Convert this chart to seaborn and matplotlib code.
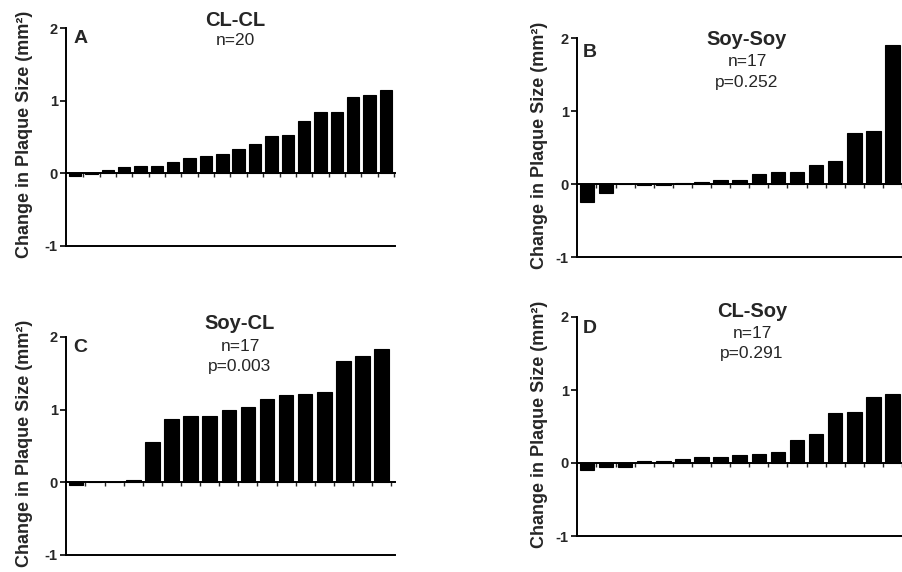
import numpy as np
import pandas as pd
import matplotlib
matplotlib.use("Agg")
import matplotlib.pyplot as plt
import seaborn as sns

# ---- data ----
vals_A = [-0.04, -0.01, 0.05, 0.09, 0.10, 0.10, 0.15, 0.21, 0.24, 0.27,
          0.33, 0.41, 0.52, 0.53, 0.72, 0.84, 0.84, 1.05, 1.08, 1.14]
vals_B = [-0.25, -0.12, 0.0, -0.02, -0.02, 0.02, 0.03, 0.055, 0.055, 0.14,
          0.16, 0.16, 0.26, 0.32, 0.70, 0.73, 1.91]
vals_C = [-0.04, 0.0, 0.0, 0.03, 0.55, 0.87, 0.91, 0.91, 0.99, 1.04,
          1.14, 1.20, 1.21, 1.24, 1.67, 1.74, 1.83]
vals_D = [-0.10, -0.06, -0.06, 0.03, 0.03, 0.055, 0.08, 0.08, 0.115, 0.13,
          0.15, 0.32, 0.40, 0.69, 0.70, 0.91, 0.95]

titles = ["CL-CL", "Soy-Soy", "Soy-CL", "CL-Soy"]
letters = ["A", "B", "C", "D"]
stats = [["n=20"], ["n=17", "p=0.252"], ["n=17", "p=0.003"], ["n=17", "p=0.291"]]
yticks = [-1, 0, 1, 2]
ylabel = "Change in Plaque Size (mm²)"

sns.set_style("ticks")
plt.rcParams['font.family'] = ['Liberation Sans', 'DejaVu Sans']

W, H = 903, 572
fig = plt.figure(figsize=(W / 100, H / 100), dpi=100)

def fx(px):
    return px / W

def fy(py):
    return 1 - py / H

# axes boxes in pixels: left, top, right, bottom
boxes = [(66, 28, 395, 246), (577, 38, 903, 257),
         (66, 337, 395, 555), (577, 317, 903, 536)]
xlims = [(-0.55, 19.55), (-0.52, 16.55), (-0.52, 16.7), (-0.52, 16.55)]
data = [vals_A, vals_B, vals_C, vals_D]

for k in range(4):
    l, t, r, b = boxes[k]
    ax = fig.add_axes([fx(l), fy(b), fx(r) - fx(l), fy(t) - fy(b)])
    vals = data[k]
    df = pd.DataFrame({"idx": np.arange(len(vals)), "val": vals})
    sns.barplot(data=df, x="idx", y="val", color="black", saturation=1,
                width=0.76, edgecolor="black", linewidth=0.8, ax=ax)
    ax.set_xlim(*xlims[k])
    ax.set_ylim(-1, 2)
    ax.set_xlabel("")
    ax.set_ylabel("")
    ax.set_yticks(yticks)
    ax.set_yticklabels([str(v) for v in yticks], fontweight="bold", fontsize=10.5)
    ax.tick_params(axis="y", direction="out", length=4, width=1.4, pad=2)
    # zero line using top spine at y=0, with small downward ticks between bars
    ax.spines["top"].set_position(("data", 0))
    ax.spines["right"].set_visible(False)
    for s in ["top", "left", "bottom"]:
        ax.spines[s].set_linewidth(1.4)
        ax.spines[s].set_color("black")
    ax.xaxis.set_ticks_position("top")
    bounds = [i + 0.5 for i in range(len(vals))]
    ax.set_xticks(bounds)
    ax.set_xticklabels([])
    ax.tick_params(axis="x", direction="in", length=3, width=1.0)
    ax.set_facecolor("none")

# y labels
for xl, yc in [(25, 134), (540, 145), (25, 443), (540, 424)]:
    fig.text(fx(xl), fy(yc), ylabel, rotation=90, ha="center", va="center",
             fontsize=13, fontweight="bold")

# titles, stats, letters
title_pos = [(235, 26), (747, 45), (240, 329), (752, 317)]
stat_base = [[45], [66, 87], [351, 371], [338, 358]]
letter_pos = [(74, 43), (583, 57), (73, 352), (583, 333)]
for k in range(4):
    tx, ty = title_pos[k]
    fig.text(fx(tx), fy(ty), titles[k], ha="center", va="baseline",
             fontsize=14.5, fontweight="bold")
    for s, sy in zip(stats[k], stat_base[k]):
        fig.text(fx(tx), fy(sy), s, ha="center", va="baseline", fontsize=12.5)
    lx, ly = letter_pos[k]
    fig.text(fx(lx), fy(ly), letters[k], ha="left", va="baseline",
             fontsize=14, fontweight="bold")

fig.savefig("out.png", dpi=100)
